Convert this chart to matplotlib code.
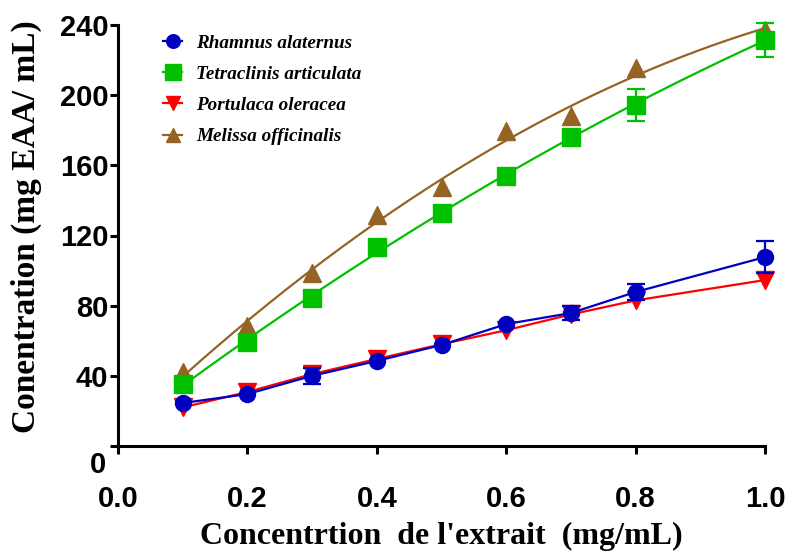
import matplotlib
matplotlib.use("Agg")
import matplotlib.pyplot as plt
import matplotlib.transforms as mtransforms
import numpy as np

# Concentration of extract (mg/mL)
conc = [0.1, 0.2, 0.3, 0.4, 0.5, 0.6, 0.7, 0.8, 1.0]

# mg EAA / mL (0 = error bar hidden by the marker)
rhamnus = [24.5, 29.6, 40.0, 48.5, 57.6, 69.5, 75.8, 87.8, 107.7]
rhamnus_err = [0, 0, 4.5, 0, 0, 0, 4.0, 4.6, 9.0]
tetraclinis = [35.3, 59.3, 84.4, 113.5, 132.8, 153.9, 176.2, 194.4, 231.5]
tetraclinis_err = [0, 0, 0, 0, 0, 0, 0, 9.4, 9.7]
portulaca = [22.0, 30.8, 41.0, 49.6, 58.0, 66.0, 75.0, 83.0, 94.6]
portulaca_err = [0, 0, 0, 0, 0, 0, 0, 0, 0]
melissa = [42.0, 68.4, 98.6, 131.7, 147.7, 179.6, 188.0, 215.5, 237.0]
melissa_err = [0, 0, 0, 0, 0, 0, 0, 0, 0]

x_ticks = [0.0, 0.2, 0.4, 0.6, 0.8, 1.0]
y_ticks = [0, 40, 80, 120, 160, 200, 240]

TICK_FONT = "Liberation Sans"
LABEL_FONT = "Liberation Serif"

fig = plt.figure(figsize=(7.91, 5.53), dpi=100)
ax = fig.add_axes([118 / 791, 1 - 446 / 553, 647 / 791, 421 / 553])

# (name, y, err, colour, marker, size, fitted curve?)
series = [
    ("Rhamnus alaternus", rhamnus, rhamnus_err, "#0000C0", "o", 11.5, False),
    ("Tetraclinis articulata", tetraclinis, tetraclinis_err, "#00C000", "s", 13, True),
    ("Portulaca oleracea", portulaca, portulaca_err, "#FF0000", "v", 12.5, False),
    ("Melissa officinalis", melissa, melissa_err, "#956323", "^", 12.5, True),
]
# draw order: brown, red, green, blue (last on top)
draw_order = [3, 2, 1, 0]
handles = [None] * 4
xs = np.array(conc)
for i in draw_order:
    name, y, err, color, mk, ms, fit = series[i]
    y = np.array(y)
    err = np.array(err)
    z = 3 + draw_order.index(i)
    if fit:
        coef = np.polyfit(xs, y, 2)
        xf = np.linspace(xs.min(), xs.max(), 200)
        ax.plot(xf, np.polyval(coef, xf), color=color, lw=1.6, zorder=z,
                clip_on=False)
    else:
        ax.plot(xs, y, color=color, lw=1.6, zorder=z, clip_on=False)
    m = err > 0
    if m.any():
        ax.errorbar(xs[m], y[m], yerr=err[m], fmt="none", ecolor=color,
                    elinewidth=1.6, capsize=6.5, capthick=1.6, zorder=z,
                    clip_on=False)
    ax.plot(xs, y, linestyle="none", marker=mk, markersize=ms, color=color,
            markeredgecolor=color, zorder=z + 0.5, clip_on=False)
    h, = ax.plot([], [], color=color, lw=1.6, marker=mk, markersize=ms * 0.85,
                 markeredgecolor=color, label=name)
    handles[i] = h

ax.set_xlim(0, 1.0)
ax.set_ylim(0, 240)
ax.set_xticks(x_ticks)
ax.set_xticklabels([f"{v:.1f}" for v in x_ticks])
ax.set_yticks(y_ticks)
ax.set_yticklabels([str(v) for v in y_ticks])

for side in ["top", "right"]:
    ax.spines[side].set_visible(False)
for side in ["left", "bottom"]:
    ax.spines[side].set_linewidth(2.2)

ax.tick_params(axis="both", direction="out", length=6, width=2.2)
ax.tick_params(axis="x", pad=22)
ax.tick_params(axis="y", pad=1)
for lab in ax.get_xticklabels() + ax.get_yticklabels():
    lab.set_fontfamily(TICK_FONT)
    lab.set_fontweight("bold")
    lab.set_fontsize(21)

# the "0" on the y axis sits a bit below the axis line
offset = mtransforms.ScaledTranslation(-2 / 100, -16 / 100, fig.dpi_scale_trans)
zero_lab = ax.get_yticklabels()[0]
zero_lab.set_transform(zero_lab.get_transform() + offset)

ax.set_xlabel("Concentrtion  de l'extrait  (mg/mL)", fontfamily=LABEL_FONT,
              fontweight="bold", fontsize=23)
ax.xaxis.set_label_coords(0.5, -0.214)
ax.xaxis.label.set_va("center")
ax.set_ylabel("Conentration (mg EAA/ mL)", fontfamily=LABEL_FONT,
              fontweight="bold", fontsize=24)
ax.yaxis.set_label_coords(-0.141, 0.52)
ax.yaxis.label.set_va("center")

leg = fig.legend(handles=handles, loc="upper left",
                 bbox_to_anchor=(146 / 791, 1 - 17 / 553), frameon=False,
                 handlelength=1.0, handletextpad=0.7, labelspacing=0.72,
                 prop={"family": LABEL_FONT, "weight": "bold",
                       "style": "italic", "size": 13.8})

fig.savefig("out.png", dpi=100)
